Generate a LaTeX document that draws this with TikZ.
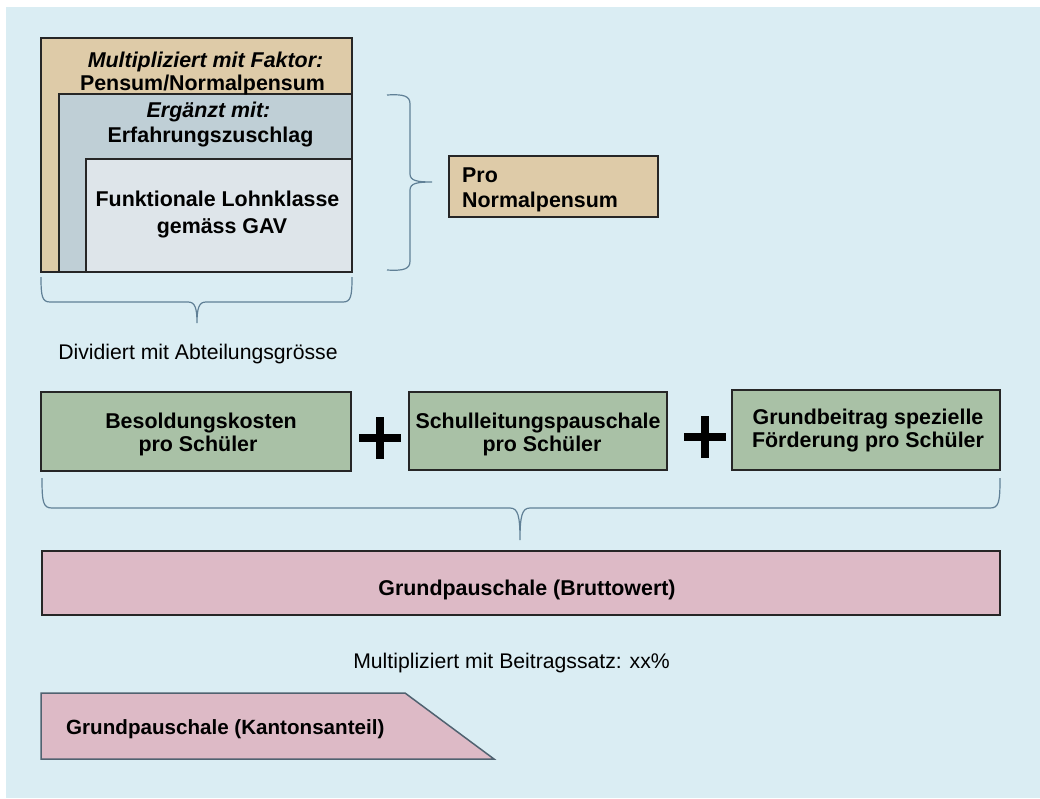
\documentclass[tikz,border=0pt]{standalone}
\usepackage{fontspec}
\setmainfont{Liberation Sans}
\begin{document}
\begin{tikzpicture}[x=1pt,y=-1pt,
  bfont/.style={font=\fontsize{21.4}{25}\selectfont\bfseries},
  bifont/.style={font=\fontsize{21.4}{25}\selectfont\bfseries\itshape},
  kfont/.style={font=\fontsize{20.6}{24}\selectfont\bfseries},
  rfont/.style={font=\fontsize{21.2}{25}\selectfont},
  txt/.style={inner sep=0pt, anchor=base},
  boxe/.style={draw=black!85, line width=2pt, inner sep=0pt},
  bracestyle/.style={draw=bracecol, line width=1.2pt},
  plusbar/.style={draw=black, line width=8pt}
]
\definecolor{bgblue}{RGB}{218,237,243}
\definecolor{tanc}{RGB}{222,203,168}
\definecolor{midc}{RGB}{191,207,214}
\definecolor{innc}{RGB}{222,229,234}
\definecolor{greenc}{RGB}{169,193,166}
\definecolor{pinkc}{RGB}{221,186,198}
\definecolor{bracecol}{RGB}{96,128,150}
\definecolor{trapline}{RGB}{80,98,112}

\useasboundingbox (0,0) rectangle (1040,798);
\fill[white] (0,0) rectangle (1040,798);
\fill[bgblue] (6,7) rectangle (1040,798);

% stacked boxes
\node[boxe, fill=tanc, minimum width=311pt, minimum height=234pt] (outer) at (196.5,155) {};
\node[boxe, fill=midc, minimum width=293pt, minimum height=178pt] (mid) at (205.5,183) {};
\node[boxe, fill=innc, minimum width=266pt, minimum height=113pt] (inn) at (219,215.5) {};

\node[txt, bifont] (t1) at (205.5,67) {Multipliziert mit Faktor:};
\node[txt, bfont] (t2) at (202.5,90) {Pensum/Normalpensum};
\node[txt, bifont] (t3) at (208.5,117) {Ergänzt mit:};
\node[txt, bfont] (t4) at (210.5,142) {Erfahrungszuschlag};
\node[txt, bfont] (t5) at (217.5,206) {Funktionale Lohnklasse};
\node[txt, bfont] (t6) at (222,233) {gemäss GAV};

% right brace
\coordinate (rb1) at (387,95);
\coordinate (rb2) at (387,270);
\coordinate (rbt) at (432,182);
\draw[bracestyle] (rb1) .. controls (404,94) and (410,96) .. (410,104)
  -- (410,174) .. controls (410,181) and (418,182) .. (rbt)
  .. controls (418,182) and (410,183) .. (410,190)
  -- (410,261) .. controls (410,269) and (404,271) .. (rb2);

% Pro Normalpensum
\node[boxe, fill=tanc, minimum width=209pt, minimum height=61pt] (pro) at (553.5,186.5) {};
\node[inner sep=0pt, anchor=base west, bfont] (pro1) at (462,182) {Pro};
\node[inner sep=0pt, anchor=base west, bfont] (pro2) at (462,207) {Normalpensum};

% bottom brace under stacked boxes
\coordinate (bb1) at (41,277);
\coordinate (bb2) at (352,277);
\coordinate (bbt) at (197,323);
\draw[bracestyle] (bb1) .. controls (41,296) and (42,302) .. (50,302)
  -- (188,302) .. controls (195,302) and (197,308) .. (bbt)
  .. controls (197,308) and (199,302) .. (206,302)
  -- (343,302) .. controls (351,302) and (352,296) .. (bb2);

\node[txt, rfont] (div) at (198,359) {Dividiert mit Abteilungsgrösse};

% green boxes
\node[boxe, fill=greenc, minimum width=310pt, minimum height=79pt] (g1) at (196,431.5) {};
\node[boxe, fill=greenc, minimum width=258pt, minimum height=78pt] (g2) at (538,431) {};
\node[boxe, fill=greenc, minimum width=268pt, minimum height=80pt] (g3) at (866,430) {};

\node[txt, bfont] (g1a) at (201,428) {Besoldungskosten};
\node[txt, bfont] (g1b) at (198,451) {pro Schüler};
\node[txt, bfont] (g2a) at (538,428) {Schulleitungspauschale};
\node[txt, bfont] (g2b) at (542,451) {pro Schüler};
\node[txt, bfont] (g3a) at (868,424) {Grundbeitrag spezielle};
\node[txt, bfont] (g3b) at (868,447) {Förderung pro Schüler};

% plus signs
\draw[plusbar] (359,437.5) -- (401,437.5) (380,417) -- (380,459);
\draw[plusbar] (684,436.5) -- (726,436.5) (705,416) -- (705,458);

% big brace
\coordinate (cb1) at (42,478);
\coordinate (cb2) at (1000,478);
\coordinate (cbt) at (520,540);
\draw[bracestyle] (cb1) .. controls (42,502) and (43,508) .. (52,508)
  -- (510,508) .. controls (518,508) and (520,516) .. (cbt)
  .. controls (520,516) and (522,508) .. (530,508)
  -- (990,508) .. controls (999,508) and (1000,502) .. (cb2);

% pink box
\node[boxe, fill=pinkc, minimum width=958pt, minimum height=64pt] (brutto) at (521,583) {};
\node[txt, bfont] (bruttot) at (527,595) {Grundpauschale (Bruttowert)};

\node[txt, rfont] (mult) at (511.5,668) {Multipliziert mit Beitragssatz: xx\%};

% trapezoid
\draw[fill=pinkc, draw=trapline, line width=1.5pt] (41,693) -- (405,693) -- (494,759) -- (41,759) -- cycle;
\node[inner sep=0pt, anchor=base west, kfont] (kant) at (66,734) {Grundpauschale (Kantonsanteil)};
\end{tikzpicture}
\end{document}
